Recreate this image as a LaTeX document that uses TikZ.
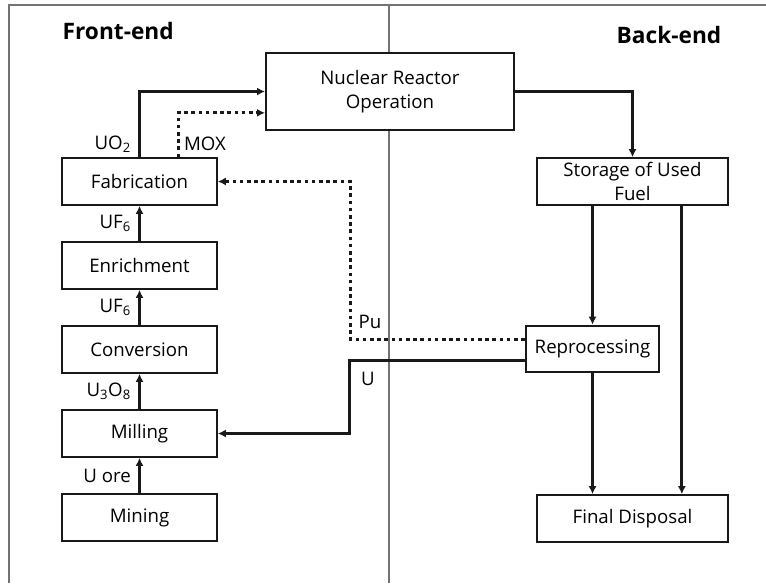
\documentclass[tikz,border=0pt]{standalone}
\usepackage{fontspec}
\setmainfont{Open Sans}
\usetikzlibrary{arrows.meta}
\begin{document}
\begin{tikzpicture}[x=0.75pt, y=-0.75pt, node distance=63pt, >={Latex[length=6pt,width=6pt]},
    font=\fontsize{14}{18}\selectfont]
      % Styles
      \tikzstyle{block} = [rectangle, draw=black!90, fill=white, line width=1.5pt,
                          text centered, minimum width=116pt, minimum height=35pt]
      \tikzstyle{flow} = [->, draw=black!90, line width=2.2pt]
      \tikzstyle{pflow} = [->, draw=black!90, line width=2.2pt, dash pattern=on 2.7pt off 2.7pt]
      \tikzstyle{title} = [font=\fontsize{17}{20}\selectfont\bfseries]
      \tikzstyle{frame} = [draw=black!55, line width=1pt]
      \useasboundingbox (0,0) rectangle (766,583);

      % Frame
      \draw[frame] (9,583) -- (9,5) -- (766,5);
      \draw[frame] (389,5) -- (389,583);
      \node[title, anchor=west] (front) at (58,31) {Front-end};
      \node[title, anchor=east] (back) at (726,35) {Back-end};

      % Nodes
      \node[block] (fab) at (139.5,181.5) {Fabrication};
      \node[block, below of=fab] (enrich) {Enrichment};
      \node[block, below of=enrich] (conv) {Conversion};
      \node[block, below of=conv] (mill) {Milling};
      \node[block, below of=mill] (mine) {Mining};
      \node[block, minimum width=186pt, minimum height=58pt, align=center] (reactor) at (390,91.5) {Nuclear Reactor\\Operation};
      \node[block, minimum width=143pt, inner ysep=1pt, align=center] (storage) at (632.5,181.5) {Storage of Used\\Fuel};
      \node[block, minimum width=100pt] (repro) at (592.5,349) {Reprocessing};
      \node[block, minimum width=143pt] (final) at (632.5,518.5) {Final Disposal};
      \coordinate (pubend) at (350.3,339.3);
      \coordinate (ubend) at (349.3,360.3);

      % Arrows
      \draw[flow] (mine) -- node[left, xshift=-2pt] (uore) {U ore} (mill);
      \draw[flow] (mill) -- node[left, xshift=-2pt] (u3o8) {U\textsubscript{3}O\textsubscript{8}} (conv);
      \draw[flow] (conv) -- node[left, xshift=-2pt] (uf6a) {UF\textsubscript{6}} (enrich);
      \draw[flow] (enrich) -- node[left, xshift=-2pt] (uf6b) {UF\textsubscript{6}} (fab);
      \draw[flow] (fab.north) |- node[left, pos=0.1, xshift=-2pt] (uo2) {UO\textsubscript{2}} (reactor.west);
      \draw[pflow] ([xshift=29pt]fab.north) |- node[right, pos=0.15] (mox) {MOX} ([yshift=-16pt]reactor.west);
      \draw[flow] (reactor.east) -| (storage.north);
      \draw[flow] (storage.south -| repro.north) -- (repro.north);
      \draw[flow] ([xshift=37pt]storage.south) -- ([xshift=37pt]final.north);
      \draw[flow] (repro.south) -- (repro.south |- final.north);
      \draw[pflow, line width=2.6pt] (repro.west |- pubend) -- (pubend) -- (pubend |- fab.east) -- (fab.east);
      \draw[flow, line width=2.6pt] (repro.west |- ubend) -- (ubend) -- (ubend |- mill.east) -- (mill.east);
      \node[anchor=west] (pu) at (354,322) {Pu};
      \node (ulabel) at (368,379) {U};
  \end{tikzpicture}
\end{document}
